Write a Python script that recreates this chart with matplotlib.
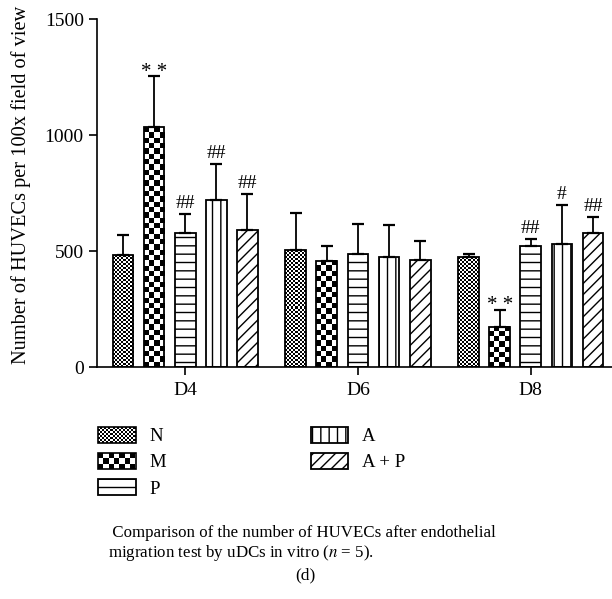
import numpy as np
import matplotlib
matplotlib.use("Agg")
import matplotlib.pyplot as plt
from matplotlib.patches import Rectangle
from matplotlib.legend_handler import HandlerBase

plt.rcParams['font.family'] = ['Liberation Serif', 'DejaVu Serif']
plt.rcParams['mathtext.fontset'] = 'stix'
plt.rcParams['hatch.linewidth'] = 1.0

# data
days = ['D4', 'D6', 'D8']
groups = ['N', 'M', 'P', 'A', 'A + P']
means = {
    'N':     [482, 503, 472],
    'M':     [1033, 458, 173],
    'P':     [579, 487, 523],
    'A':     [721, 473, 532],
    'A + P': [590, 461, 576],
}
errs = {
    'N':     [87, 161, 15],
    'M':     [220, 62, 73],
    'P':     [82, 131, 27],
    'A':     [152, 138, 166],
    'A + P': [154, 82, 70],
}
marks = {
    'N':     ['', '', ''],
    'M':     ['* *', '', '* *'],
    'P':     ['##', '', '##'],
    'A':     ['##', '', '#'],
    'A + P': ['##', '', '##'],
}

# fill style per group: ('checker', cell px) or hatch string
fills = {
    'N': ('checker', 2.0),
    'M': ('checker', 5.3),
    'P': ('hatch', '--'),
    'A': ('hatch', '||'),
    'A + P': ('hatch', '///'),
}

fig = plt.figure(figsize=(6.12, 5.99), dpi=100)
ax = fig.add_axes([97 / 612, 1 - 367 / 599, 1 - 97 / 612, (367 - 19) / 599])

x = np.arange(len(days))
step = 0.18
width = 0.12

ax.set_xlim(-0.51, 2.47)
ax.set_ylim(0, 1500)


def checker_image(rect, cell):
    # fill one bar with a black/white checkerboard of the given pixel cell size
    x0, y0 = rect.get_x(), rect.get_y()
    w, h = rect.get_width(), rect.get_height()
    p0 = ax.transData.transform((x0, y0))
    p1 = ax.transData.transform((x0 + w, y0 + h))
    nc = max(1, int(round((p1[0] - p0[0]) / cell)))
    nr = max(1, int(round((p1[1] - p0[1]) / cell)))
    ii, jj = np.indices((nr, nc))
    arr = ((ii + jj) % 2).astype(float)
    ax.imshow(arr, cmap='gray', vmin=0, vmax=1, extent=(x0, x0 + w, y0, y0 + h),
              origin='lower', aspect='auto', interpolation='nearest', zorder=1.5)


for k, g in enumerate(groups):
    pos = x + (k - 2) * step
    kind, val = fills[g]
    if kind == 'checker':
        bars = ax.bar(pos, means[g], width, facecolor='none', edgecolor='black',
                      linewidth=1.3, zorder=2, label=g)
        for r in bars:
            checker_image(r, val)
    else:
        bars = ax.bar(pos, means[g], width, facecolor='white', edgecolor='black',
                      hatch=val, linewidth=1.3, zorder=2, label=g)
    ax.errorbar(pos, means[g], yerr=[np.zeros(3), errs[g]], fmt='none',
                ecolor='black', elinewidth=1.3, capsize=4, capthick=1.6, zorder=3)
    for p, m, e, t in zip(pos, means[g], errs[g], marks[g]):
        if t.startswith('*'):
            ax.annotate(t, (p, m + e), xytext=(0, -4), textcoords='offset points',
                        ha='center', va='bottom', fontsize=15)
        elif t:
            ax.annotate(t, (p, m + e), xytext=(0, 1.5), textcoords='offset points',
                        ha='center', va='bottom', fontsize=14)

ax.spines['top'].set_visible(False)
ax.spines['right'].set_visible(False)
ax.spines['left'].set_linewidth(1.2)
ax.spines['bottom'].set_linewidth(1.2)
ax.set_xticks(x)
ax.set_xticklabels(days)
ax.set_yticks([0, 500, 1000, 1500])
ax.tick_params(axis='both', labelsize=14, width=1.2, length=6, direction='out')
ax.tick_params(axis='x', pad=5)
ax.set_ylabel('Number of HUVECs per 100x field of view', fontsize=14.7, labelpad=10)
ax.yaxis.label.set_y(0.523)


class CheckerHandler(HandlerBase):
    def __init__(self, cols, rows):
        super().__init__()
        self.cols = cols
        self.rows = rows

    def create_artists(self, legend, orig_handle, xdescent, ydescent, width, height,
                       fontsize, trans):
        arts = []
        cw = width / self.cols
        ch = height / self.rows
        for i in range(self.cols):
            for j in range(self.rows):
                if (i + j) % 2 == 0:
                    arts.append(Rectangle((-xdescent + i * cw, -ydescent + j * ch), cw, ch,
                                          facecolor='black', edgecolor='none', transform=trans))
        arts.append(Rectangle((-xdescent, -ydescent), width, height, facecolor='none',
                              edgecolor='black', linewidth=1.2, transform=trans))
        return arts


handles, labels = ax.get_legend_handles_labels()
hmap = {handles[0]: CheckerHandler(18, 8), handles[1]: CheckerHandler(7, 3)}
fig.legend(handles, labels, handler_map=hmap, loc='upper left',
           bbox_to_anchor=(98 / 612, 1 - 427 / 599), ncol=2, frameon=False,
           fontsize=13.5, handlelength=2.0, handleheight=0.9, labelspacing=0.42,
           handletextpad=0.75, columnspacing=7.7, borderpad=0, borderaxespad=0)

fig.text(108 / 612, 1 - 544 / 599,
         ' Comparison of the number of HUVECs after endothelial\n'
         'migration test by uDCs in vitro ($n$ = 5).',
         ha='left', va='center', fontsize=12.2, linespacing=1.2)
fig.text(305 / 612, 1 - 575 / 599, '(d)', ha='center', va='center', fontsize=12.5)

fig.savefig('out.png', dpi=100)
